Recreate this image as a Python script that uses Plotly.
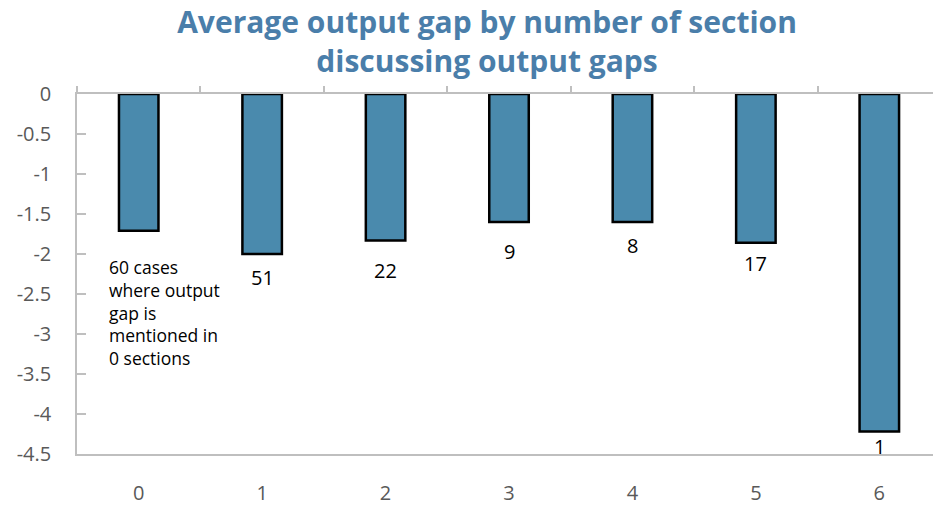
import plotly.graph_objects as go

# ---- data ----
sections = ["0", "1", "2", "3", "4", "5", "6"]
avg_gap = [-1.71, -2.0, -1.83, -1.6, -1.6, -1.86, -4.22]
case_counts = ["", "51", "22", "9", "8", "17", "1"]
y_tick_vals = [0, -0.5, -1, -1.5, -2, -2.5, -3, -3.5, -4, -4.5]
y_tick_text = ["0", "-0.5", "-1", "-1.5", "-2", "-2.5", "-3", "-3.5", "-4", "-4.5"]
note_text = "60 cases<br>where output<br>gap is<br>mentioned in<br>0 sections"
title_text = "Average output gap by number of section<br>discussing output gaps"

# ---- styles ----
BAR_COLOR = "#4A8AAD"
TITLE_COLOR = "#4A7EAA"
AXIS_COLOR = "#BFBFBF"
TICK_FONT_COLOR = "#595959"
FONT = "Open Sans, Noto Sans, Liberation Sans, sans-serif"
label_shift_px = [0, 23, 30, 29, 23, 21, 15]

fig = go.Figure()
fig.add_trace(go.Bar(
    x=sections, y=avg_gap,
    marker=dict(color=BAR_COLOR, line=dict(color="black", width=2.5)),
    width=0.32, hoverinfo="x+y", showlegend=False,
))
# invisible trace to host the top (zero-line) axis with boundary ticks
fig.add_trace(go.Scatter(
    x=sections, y=[None] * len(sections), xaxis="x2", mode="lines",
    showlegend=False, hoverinfo="skip",
))

annotations = []
for cat, val, txt, sh in zip(sections, avg_gap, case_counts, label_shift_px):
    if not txt:
        continue
    annotations.append(dict(
        x=cat, y=val, xref="x", yref="y", text=txt, showarrow=False,
        yanchor="middle", yshift=-sh,
        font=dict(family=FONT, size=20, color="black"),
    ))
annotations.append(dict(
    x=-0.26, y=-1.99, xref="x", yref="y", text=note_text, showarrow=False,
    xanchor="left", yanchor="top", align="left",
    font=dict(family=FONT, size=17.5, color="black"),
))

fig.update_layout(
    width=933, height=506,
    margin=dict(l=77, r=0, t=94, b=49),
    paper_bgcolor="white", plot_bgcolor="white",
    title=dict(
        text=title_text, x=0.522, xanchor="center",
        y=0.934, yanchor="top", yref="container",
        font=dict(family=FONT, size=30, color=TITLE_COLOR, weight="bold"),
    ),
    xaxis=dict(
        type="category", categoryorder="array", categoryarray=sections,
        range=[-0.5, 6.435], side="bottom",
        showline=True, linecolor=AXIS_COLOR, linewidth=1.5,
        ticks="", showgrid=False, zeroline=False,
        ticklabelstandoff=20,
        tickfont=dict(family=FONT, size=20, color=TICK_FONT_COLOR),
    ),
    xaxis2=dict(
        type="category", categoryorder="array", categoryarray=sections,
        overlaying="x", matches="x", side="top", anchor="y",
        range=[-0.5, 6.435],
        showline=True, linecolor=AXIS_COLOR, linewidth=1.5,
        ticks="outside", tickson="boundaries", ticklen=6,
        tickcolor=AXIS_COLOR, tickwidth=1.5,
        showticklabels=False, showgrid=False, zeroline=False,
    ),
    yaxis=dict(
        range=[-4.5, 0], tickvals=y_tick_vals, ticktext=y_tick_text,
        showline=True, linecolor=AXIS_COLOR, linewidth=1.5,
        ticks="inside", ticklen=9, tickcolor=AXIS_COLOR, tickwidth=1.5,
        showgrid=False, zeroline=False, ticklabelstandoff=20,
        tickfont=dict(family=FONT, size=20, color=TICK_FONT_COLOR),
    ),
    annotations=annotations,
)

fig.write_html(
    "out.html",
    config={"displayModeBar": False},
    post_script="document.body.style.margin='0';",
)
